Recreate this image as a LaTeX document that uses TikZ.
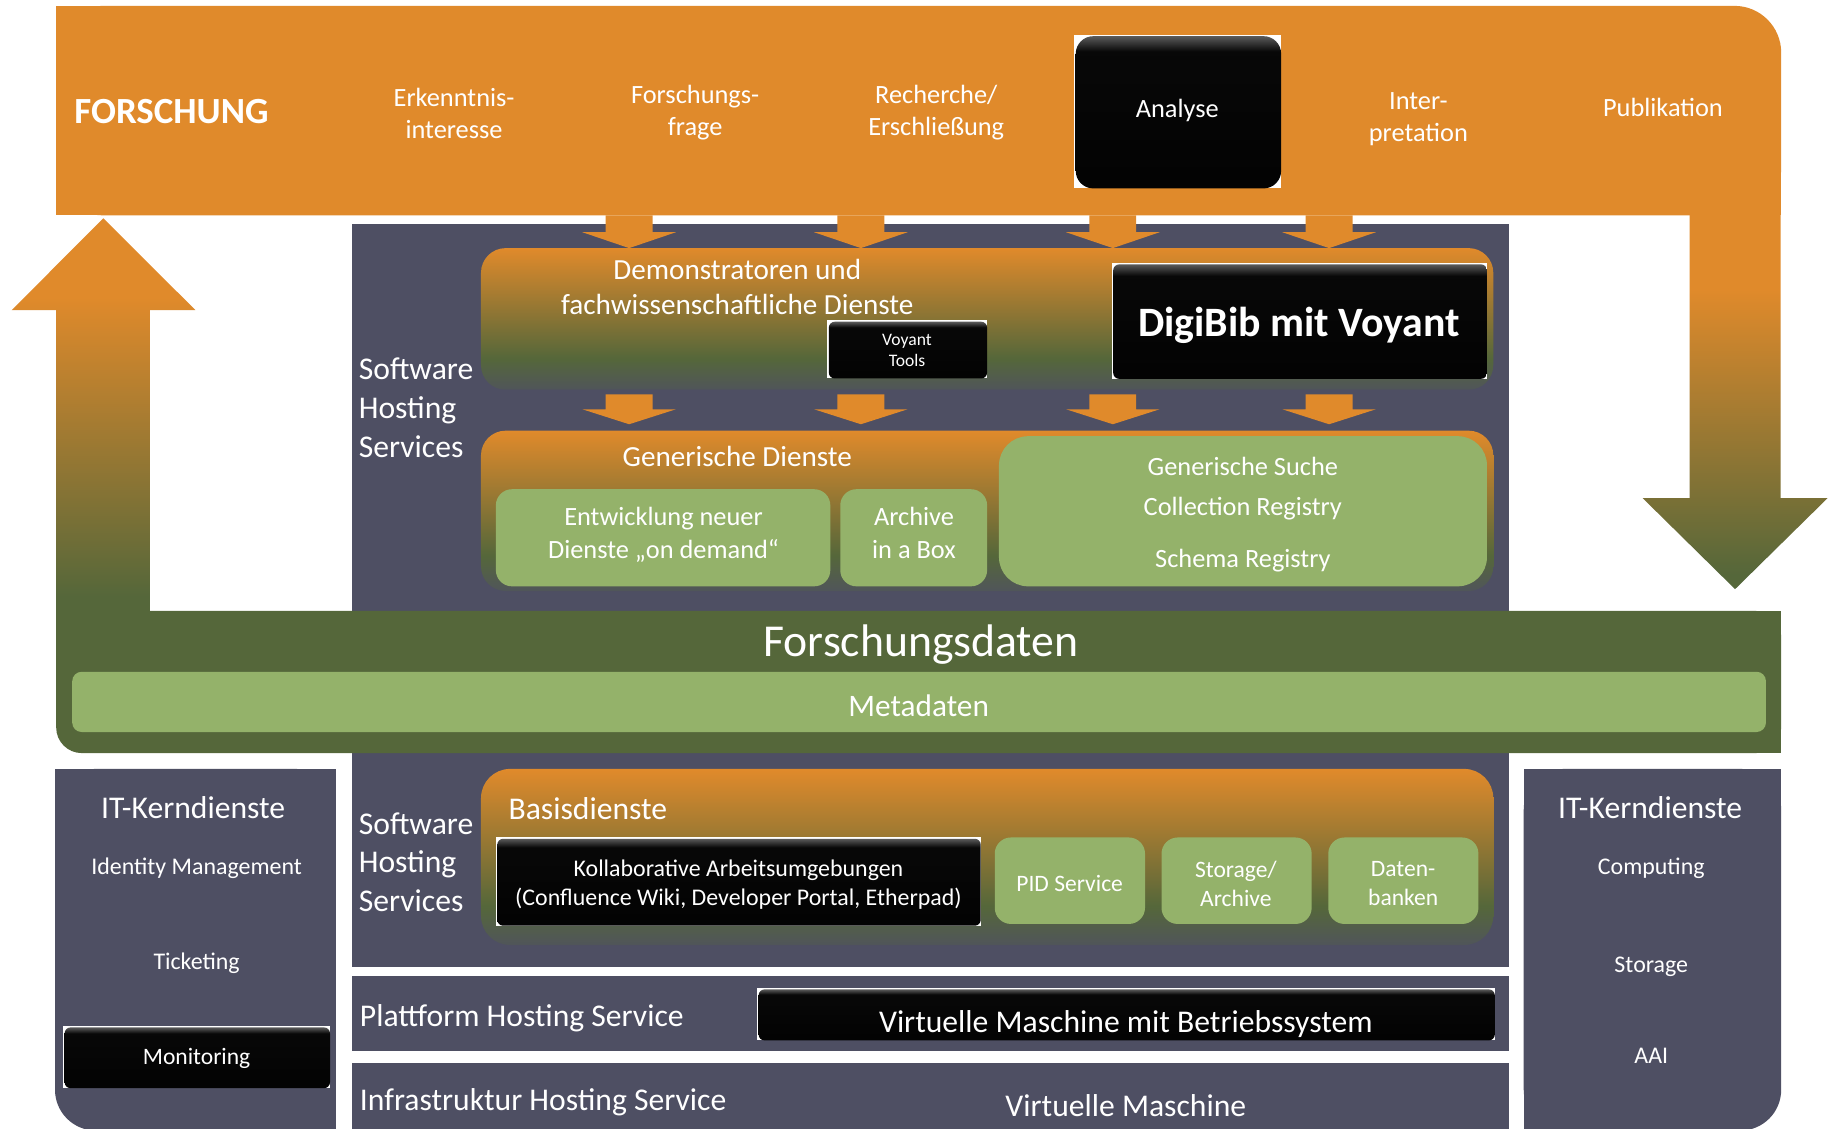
\documentclass[tikz,border=0pt]{standalone}
\usepackage{fontspec}
\setmainfont{Carlito}
\definecolor{orng}{HTML}{E08A2B}
\definecolor{dgrn}{HTML}{55673A}
\definecolor{lgrn}{HTML}{94B26A}
\definecolor{slat}{HTML}{4E4F63}
\definecolor{boxbot}{HTML}{50555A}
\definecolor{hilite}{HTML}{5A5A5A}
\pgfdeclareverticalshading{demoshade}{100bp}{color(0bp)=(boxbot); color(25bp)=(boxbot); color(36bp)=(dgrn); color(75bp)=(orng); color(100bp)=(orng)}
\pgfdeclareverticalshading{arrshade}{100bp}{color(0bp)=(dgrn); color(27bp)=(dgrn); color(65bp)=(orng); color(100bp)=(orng)}
\pgfdeclareverticalshading{blkshade}{100bp}{color(0bp)=(black); color(70bp)=(black!97!white); color(75bp)=(hilite); color(100bp)=(hilite)}
\newcommand\fsz[2]{\fontsize{#1pt}{#2pt}\selectfont}
\newcommand\blkbox[5]{%
  \fill[white] (#2,#3) rectangle (#4,#5);
  \shade[shading=blkshade, rounded corners=#1] (#2+1.2,#3+1.2) rectangle (#4,#5);
}
\tikzset{
  wt/.style={text=white, inner sep=0pt, align=center},
  gbox/.style={fill=lgrn, rounded corners=4.6pt},
  panel/.style={fill=slat},
  gradbox/.style={shading=demoshade, rounded corners=7pt},
  blockarrow/.style={fill=orng},
}
\begin{document}
\begin{tikzpicture}[x=0.011703cm, y=-0.011703cm]
\useasboundingbox (0,0) rectangle (1568,964);
% ---------- slate panels
\fill[panel] (301,191) rectangle (1289,523);
\fill[panel] (301,640) rectangle (1289,826);
\fill[panel] (301,834) rectangle (1289,898);
\fill[panel] (301,908) rectangle (1289,966);
% left IT panel (bottom-left rounded)
\fill[panel, rounded corners=11.6pt] (47,657) rectangle (287,966);
\fill[panel] (47,657) rectangle (287,900);
\fill[panel] (150,657) rectangle (287,966);
% right IT panel (bottom-right rounded)
\fill[panel, rounded corners=11.6pt] (1302,657) rectangle (1522,966);
\fill[panel] (1302,657) rectangle (1522,900);
\fill[panel] (1302,657) rectangle (1420,966);
% ---------- top band
\fill[orng, rounded corners=13.3pt] (48,5) rectangle (1522,184);
\fill[orng] (48,5) rectangle (1450,184);
\fill[orng] (48,80) rectangle (1522,184);
% ---------- big side arrows
\shade[shading=arrshade] (1443.7,183.5) -- (1443.7,425.7) -- (1403.7,425.7) -- (1482.6,503.4) -- (1561.6,425.7) -- (1521.5,425.7) -- (1521.5,183.5) -- cycle;
\shade[shading=arrshade] (48,523) -- (48,265) -- (10,265) -- (88.3,186.5) -- (167,265) -- (128,265) -- (128,523) -- cycle;
% ---------- green band
\fill[dgrn, rounded corners=7.3pt] (48,522) rectangle (1522,643.5);
\fill[dgrn] (48,522) rectangle (1522,600);
\fill[dgrn] (100,522) rectangle (1522,643.5);
\fill[lgrn, rounded corners=2.7pt] (61.7,574) rectangle (1509,625.5);
% ---------- gradient boxes
\shade[gradbox] (411,212) rectangle (1276,333);
\shade[gradbox] (411,368) rectangle (1276,505);
\shade[gradbox, rounded corners=8.3pt] (411,657) rectangle (1276,807.5);
% ---------- block arrows
\foreach \x in {537.6,735.6,950.9,1135.7} {
  \fill[blockarrow] (\x-20,184) -- (\x-20,198.4) -- (\x-40,198.4) -- (\x,212) -- (\x+40,198.4) -- (\x+20,198.4) -- (\x+20,184) -- cycle;
  \fill[blockarrow] (\x-20,337) -- (\x-20,349.7) -- (\x-40,349.7) -- (\x,362.5) -- (\x+40,349.7) -- (\x+20,349.7) -- (\x+20,337) -- cycle;
}
% ---------- black boxes
\blkbox{5pt}{918}{29.7}{1094.7}{161}
\blkbox{1.7pt}{707}{273.7}{843.5}{323.4}
\blkbox{1.7pt}{950}{224.7}{1270.6}{323.7}
\blkbox{1.7pt}{423.7}{715.5}{838}{791}
\blkbox{1.7pt}{647}{844.2}{1277.3}{889}
\blkbox{1.7pt}{54}{876.7}{282}{929.8}
% ---------- green boxes
\fill[gbox] (423.7,418) rectangle (709.5,501);
\fill[gbox] (718,418) rectangle (843.5,501);
\fill[gbox, rounded corners=8.3pt] (853.6,372.7) rectangle (1270.6,501);
\fill[gbox] (850,715.6) rectangle (978.4,789.5);
\fill[gbox] (992.5,715.6) rectangle (1120.8,789.5);
\fill[gbox] (1135,715.6) rectangle (1263.3,789.5);
% ---------- texts: top band
\node[wt, anchor=west, font=\bfseries\fsz{10.5}{12.6}] (forschung) at (63,95) {FORSCHUNG};
\node[wt, font=\fsz{7.5}{9}] (erk) at (388,97) {Erkenntnis-\\interesse};
\node[wt, font=\fsz{7.5}{9}] (ffrage) at (594,96) {Forschungs-\\frage};
\node[wt, font=\fsz{7.5}{9}] (rech) at (800,96) {Recherche/\\Erschließung};
\node[wt, font=\fsz{7.5}{9}] (analyse) at (1006,94) {Analyse};
\node[wt, font=\fsz{7.5}{9}] (interp) at (1212,102) {Inter-\\pretation};
\node[wt, font=\fsz{7.5}{9}] (publ) at (1421,92) {Publikation};
% upper software hosting services
\node[wt, anchor=west, align=left, font=\fsz{9}{11}] (shs1) at (306,348.5) {Software\\Hosting\\Services};
\node[wt, font=\fsz{8.3}{10}] (demo) at (630,245) {Demonstratoren und\\fachwissenschaftliche Dienste};
\node[wt, font=\fsz{5}{6.1}] (voyant) at (775,299.5) {Voyant\\Tools};
\node[wt, font=\bfseries\fsz{11.9}{14}] (digibib) at (1110,278) {DigiBib mit Voyant};
\node[wt, font=\fsz{8.3}{10}] (gendienste) at (630,390) {Generische Dienste};
\node[wt, font=\fsz{7.5}{9.3}] (entw) at (567,457) {Entwicklung neuer\\Dienste „on demand“};
\node[wt, font=\fsz{7.5}{9.3}] (aiab) at (781,455.5) {Archive\\in a Box};
\node[wt, font=\fsz{7.5}{9}] (gsuche) at (1062,398.5) {Generische Suche};
\node[wt, font=\fsz{7.5}{9}] (collreg) at (1062,435) {Collection Registry};
\node[wt, font=\fsz{7.5}{9}] (schemreg) at (1062,479) {Schema Registry};
% green band
\node[wt, font=\fsz{13}{15}] (fdaten) at (787,551) {Forschungsdaten};
\node[wt, font=\fsz{8.9}{10.5}] (meta) at (785,603) {Metadaten};
% lower software hosting services
\node[wt, anchor=west, align=left, font=\fsz{9}{11}] (shs2) at (306,736.5) {Software\\Hosting\\Services};
\node[wt, anchor=west, font=\fsz{9}{11}] (basis) at (434,691) {Basisdienste};
\node[wt, font=\fsz{6.8}{8.3}] (kollab) at (631,756) {Kollaborative Arbeitsumgebungen\\(Confluence Wiki, Developer Portal, Etherpad)};
\node[wt, font=\fsz{6.7}{8.3}] (pid) at (914,755) {PID Service};
\node[wt, font=\fsz{6.7}{8.3}] (storarch) at (1056,755) {Storage/\\Archive};
\node[wt, font=\fsz{6.7}{8.3}] (datenbanken) at (1199,755) {Daten-\\banken};
% platform / infrastructure
\node[wt, anchor=west, font=\fsz{9}{11}] (plattform) at (307,870) {Plattform Hosting Service};
\node[wt, font=\fsz{9}{11}] (vmbs) at (962,875) {Virtuelle Maschine mit Betriebssystem};
\node[wt, anchor=west, font=\fsz{9}{11}] (infra) at (307,942) {Infrastruktur Hosting Service};
\node[wt, font=\fsz{9}{11}] (vm) at (962,945) {Virtuelle Maschine};
% IT core services left
\node[wt, font=\fsz{9}{11}] (itl) at (165,690) {IT-Kerndienste};
\node[wt, font=\fsz{6.8}{8}] (idm) at (168,742) {Identity Management};
\node[wt, font=\fsz{6.8}{8}] (tick) at (168,823) {Ticketing};
\node[wt, font=\fsz{6.7}{8}] (monit) at (168,904) {Monitoring};
% IT core services right
\node[wt, font=\fsz{9}{11}] (itr) at (1410,690) {IT-Kerndienste};
\node[wt, font=\fsz{6.8}{8}] (comp) at (1411,742) {Computing};
\node[wt, font=\fsz{6.8}{8}] (stor) at (1411,826) {Storage};
\node[wt, font=\fsz{6.8}{8}] (aai) at (1411,902) {AAI};
\end{tikzpicture}
\end{document}
